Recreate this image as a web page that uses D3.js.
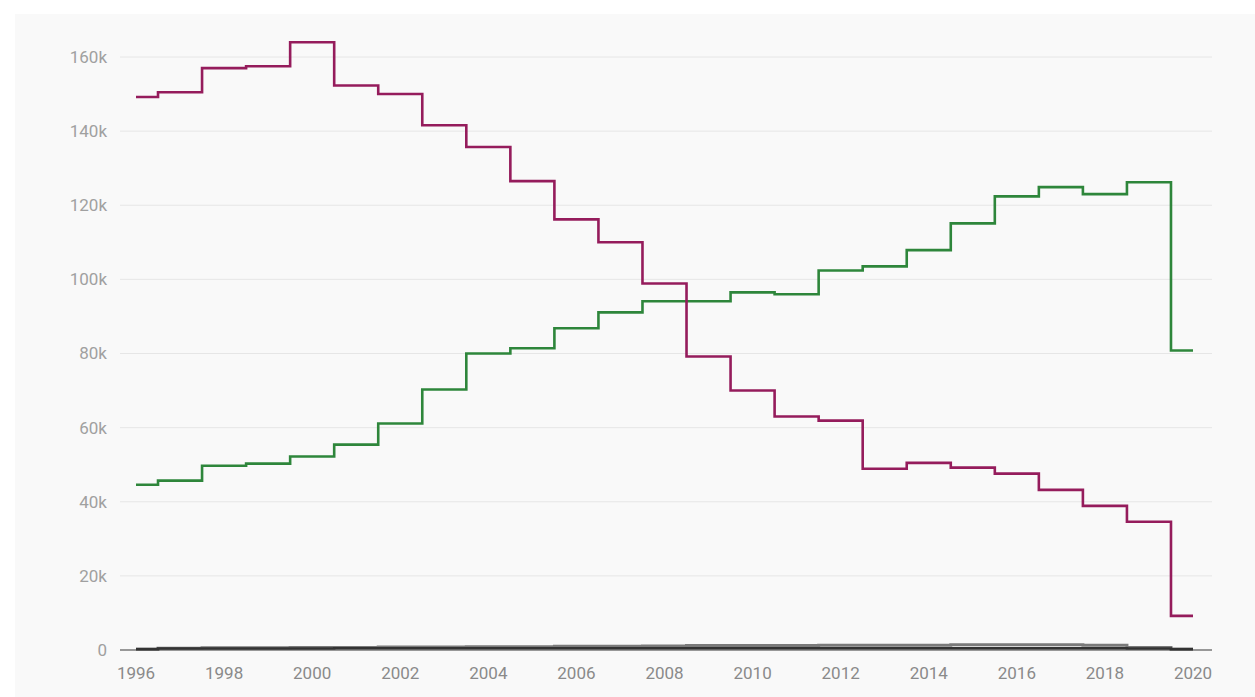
<!DOCTYPE html>
<meta charset="utf-8">
<script src="https://d3js.org/d3.v7.min.js"></script>
<style>
  body { margin: 0; background: #fff; }
  text { font-family: Roboto, "Noto Sans", sans-serif; }
</style>
<body>
<script>
var years = d3.range(1996, 2021);
var red = [149.2, 150.5, 157, 157.5, 164, 152.3, 150, 141.6, 135.7, 126.5, 116.2, 110, 98.9,
           79.2, 70, 63, 61.9, 48.9, 50.5, 49.2, 47.6, 43.2, 38.9, 34.6, 9.2];
var green = [44.6, 45.7, 49.7, 50.3, 52.2, 55.4, 61.1, 70.3, 80, 81.4, 86.8, 91.1, 94.1,
             94.1, 96.5, 96, 102.4, 103.5, 107.9, 115.1, 122.4, 124.9, 123, 126.2, 80.8];
var grayLight = [0.3, 0.5, 0.6, 0.6, 0.7, 0.7, 0.8, 0.8, 0.9, 0.9, 1.0, 1.0, 1.1,
                 1.2, 1.2, 1.2, 1.3, 1.3, 1.3, 1.4, 1.4, 1.4, 1.3, 0.7, 0.3];
var grayDark = [0.2, 0.4, 0.4, 0.4, 0.4, 0.5, 0.5, 0.5, 0.5, 0.5, 0.5, 0.5, 0.5,
                0.5, 0.5, 0.5, 0.5, 0.5, 0.5, 0.5, 0.5, 0.5, 0.5, 0.4, 0.2];
var yTicks = [0, 20, 40, 60, 80, 100, 120, 140, 160];
var xTicks = d3.range(1996, 2021, 2);

var width = 1255, height = 697;
var svg = d3.select("body").append("svg")
    .attr("width", width)
    .attr("height", height);

// light panel behind the chart
svg.append("rect")
    .attr("x", 15).attr("y", 14)
    .attr("width", width - 15).attr("height", height - 14)
    .attr("fill", "#f9f9f9");

var x = d3.scaleLinear().domain([1996, 2020]).range([136, 1193]);
var y = d3.scaleLinear().domain([0, 160]).range([650, 57]);

// gridlines
svg.append("g")
  .selectAll("line")
  .data(yTicks)
  .join("line")
    .attr("x1", 120).attr("x2", 1212)
    .attr("y1", d => y(d)).attr("y2", d => y(d))
    .attr("stroke", d => d === 0 ? "#777" : "#e6e6e6")
    .attr("stroke-width", d => d === 0 ? 1.5 : 1);

// y labels
svg.append("g")
  .selectAll("text")
  .data(yTicks)
  .join("text")
    .attr("x", 107)
    .attr("y", d => y(d))
    .attr("dy", "0.35em")
    .attr("text-anchor", "end")
    .attr("fill", "#a0a0a0")
    .style("font-size", "17px")
    .text(d => d === 0 ? "0" : d + "k");

// x labels
svg.append("g")
  .selectAll("text")
  .data(xTicks)
  .join("text")
    .attr("x", d => x(d))
    .attr("y", 679)
    .attr("text-anchor", "middle")
    .attr("fill", "#8a8a8a")
    .style("font-size", "17px")
    .text(d => d);

var line = d3.line()
    .x((d, i) => x(years[i]))
    .y(d => y(d))
    .curve(d3.curveStep);

var series = [
  {values: grayLight, color: "#7a7a7a", w: 3},
  {values: grayDark, color: "#333", w: 2.5},
  {values: green, color: "#2e863b", w: 2.6},
  {values: red, color: "#951c5c", w: 2.6}
];

svg.append("g")
    .attr("fill", "none")
  .selectAll("path")
  .data(series)
  .join("path")
    .attr("stroke", d => d.color)
    .attr("stroke-width", d => d.w)
    .attr("d", d => line(d.values));
</script>
</body>
